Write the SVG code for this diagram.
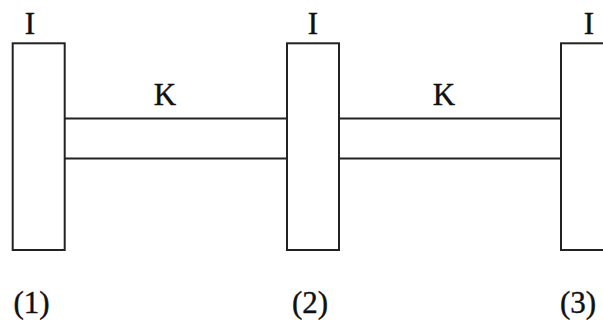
<svg xmlns="http://www.w3.org/2000/svg" width="603" height="320" viewBox="0 0 603 320">
<style>
.disk{fill:#fff;stroke:#222;stroke-width:2}
.shaft{stroke:#222;stroke-width:2;fill:none}
.lbl{font-family:'Liberation Serif',serif;font-size:31px;fill:#111;stroke:#111;stroke-width:0.4;text-anchor:middle}
</style>
<rect width="603" height="320" fill="#fff"/>
<g id="connectors">
<line class="shaft" x1="65" y1="118.5" x2="287" y2="118.5"/>
<line class="shaft" x1="65" y1="158.5" x2="287" y2="158.5"/>
<line class="shaft" x1="339" y1="118.5" x2="561" y2="118.5"/>
<line class="shaft" x1="339" y1="158.5" x2="561" y2="158.5"/>
<text class="lbl" x="165" y="105">K</text>
<text class="lbl" x="444" y="105">K</text>
</g>
<g id="disk1">
<rect class="disk" x="12.7" y="43.3" width="52" height="206.7"/>
<text class="lbl" x="30" y="34">I</text>
<text class="lbl" x="31.5" y="313">(1)</text>
</g>
<g id="disk2">
<rect class="disk" x="287" y="43.3" width="52" height="206.7"/>
<text class="lbl" x="313" y="34">I</text>
<text class="lbl" x="310" y="313">(2)</text>
</g>
<g id="disk3">
<rect class="disk" x="561" y="43.3" width="60" height="206.7"/>
<text class="lbl" x="589" y="34">I</text>
<text class="lbl" x="578" y="313">(3)</text>
</g>
</svg>
